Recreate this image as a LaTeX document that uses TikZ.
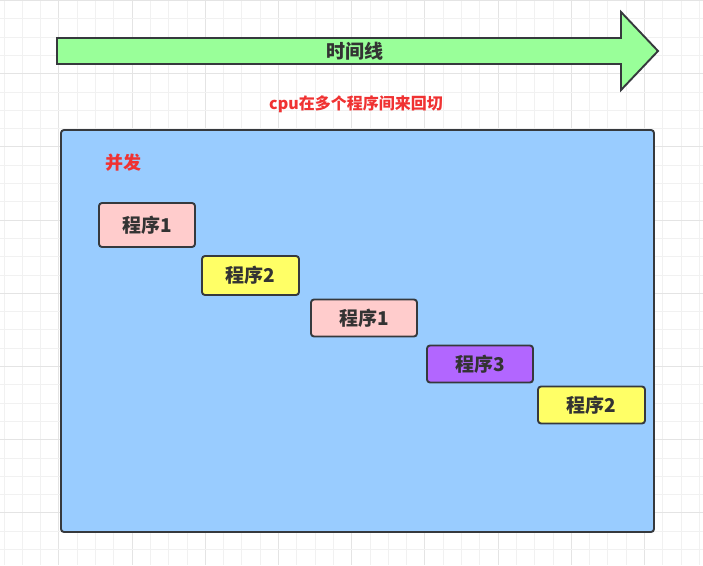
\documentclass[tikz,border=0pt]{standalone}
\usepackage{fontspec}
\newfontfamily\cjk{Noto Sans CJK SC}
\usetikzlibrary{positioning}
\definecolor{gridminor}{HTML}{F1F1F1}
\definecolor{gridmajor}{HTML}{E4E4E4}
\definecolor{edgegray}{HTML}{36393D}
\definecolor{textgray}{HTML}{333333}
\definecolor{timegreen}{HTML}{99FF99}
\definecolor{panelblue}{HTML}{99CCFF}
\definecolor{progpink}{HTML}{FFCCCC}
\definecolor{progyellow}{HTML}{FFFF66}
\definecolor{progpurple}{HTML}{B266FF}
\definecolor{notered}{HTML}{F03232}

\begin{document}
\begin{tikzpicture}[
            x=1pt, y=-1pt,
            minorline/.style={gridminor, line width=0.9pt},
            majorline/.style={gridmajor, line width=0.9pt},
            timearrow/.style={draw=edgegray, fill=timegreen, line width=1.9pt, line join=miter},
            panel/.style={draw=edgegray, fill=panelblue, line width=1.9pt, rounded corners=3pt,
                minimum width=593pt, minimum height=402pt, inner sep=0pt},
            prog/.style={draw=edgegray, line width=1.9pt, rounded corners=3pt, inner sep=0pt,
                minimum height=37pt, text=textgray, font=\cjk\bfseries\fontsize{19}{19}\selectfont},
            note/.style={text=notered, inner sep=0pt, font=\cjk\bfseries\fontsize{#1}{#1}\selectfont}
        ]
    \useasboundingbox (0,0) rectangle (703,565);
    \fill[white] (0,0) rectangle (703,565);
    \foreach \k in {0,...,38} {
        \pgfmathsetmacro{\gx}{4+18.3*\k}
        \pgfmathparse{mod(\k,4)==3 ? "majorline" : "minorline"}
        \draw[\pgfmathresult] (\gx,0) -- (\gx,565);
    }
    \foreach \k in {0,...,30} {
        \pgfmathsetmacro{\gy}{0.5+18.3*\k}
        \pgfmathparse{mod(\k,4)==0 ? "majorline" : "minorline"}
        \draw[\pgfmathresult] (0,\gy) -- (703,\gy);
    }

    \draw[timearrow] (57,38) -- (621,38) -- (621,12) -- (658,51)
        -- (621,90) -- (621,64) -- (57,64) -- cycle;
    \node[text=textgray, inner sep=0pt, font=\cjk\bfseries\fontsize{19}{19}\selectfont] (time) at (355,51) {时间线};
    \node[note=16] (switch) at (356,104) {cpu在多个程序间来回切};

    \node[panel] (cpu) at (357.5,331) {};
    \node[note=18] (concurrent) at (123,163) {并发};

    \node[prog, fill=progpink, minimum width=96pt, minimum height=44pt] (progA) at (147,225) {程序1};
    \node[prog, fill=progyellow, minimum width=97pt, minimum height=39pt] (progB) at (250.5,275.5) {程序2};
    \node[prog, fill=progpink, minimum width=106pt] (progC) at (364,318) {程序1};
    \node[prog, fill=progpurple, minimum width=106pt] (progD) at (480,364) {程序3};
    \node[prog, fill=progyellow, minimum width=107pt] (progE) at (591.5,405) {程序2};
\end{tikzpicture}
\end{document}
